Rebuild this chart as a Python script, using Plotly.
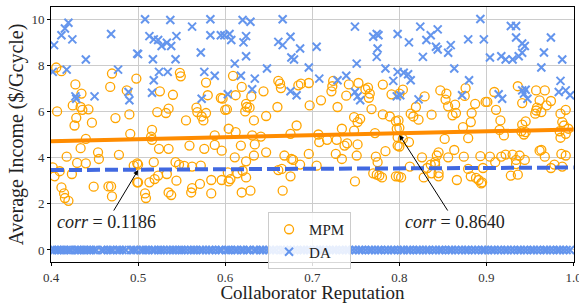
import plotly.graph_objects as go

# ---------------- data ----------------
mpm_x = [
    0.406,0.412,0.428,0.435,0.425,0.434,0.436,0.443,0.407,0.429,0.427,0.447,0.470,0.468,0.487,0.498,0.474,0.490,0.440,0.491,0.434,0.454,0.418,0.455,0.478,0.430,0.440,0.402,0.410,0.404,0.424,0.412,0.415,0.416,0.420,0.449,0.466,0.469,0.470,0.495,0.499,0.499,
    0.548,0.549,0.578,0.525,0.540,0.580,0.595,0.522,0.532,0.535,0.555,0.567,0.568,0.573,0.578,0.575,0.600,0.516,0.515,0.516,0.524,0.535,0.559,0.576,0.588,0.588,0.596,0.500,0.518,0.543,0.547,0.553,0.562,0.572,0.500,0.513,0.519,0.523,0.533,0.544,0.508,0.509,0.535,0.538,0.562,0.561,0.571,0.584,0.584,0.596,
    0.609,0.619,0.644,0.661,0.664,0.663,0.684,0.687,0.696,0.612,0.630,0.624,0.625,0.628,0.623,0.602,0.597,0.660,0.633,0.647,0.682,0.697,0.604,0.612,0.631,0.641,0.675,0.618,0.634,0.647,0.611,0.633,0.668,0.676,0.678,0.696,0.624,0.686,0.603,0.614,0.620,0.606,0.604,0.624,0.661,0.665,0.675,0.619,0.629,0.666,
    0.724,0.723,0.722,0.742,0.753,0.761,0.764,0.766,0.765,0.781,0.791,0.710,0.729,0.739,0.768,0.748,0.755,0.752,0.781,0.789,0.796,0.734,0.748,0.707,0.772,0.708,0.717,0.728,0.737,0.740,0.752,0.798,0.798,0.727,0.734,0.751,0.784,0.773,0.775,0.705,0.770,0.774,0.777,0.780,0.749,0.796,
    0.804,0.800,0.847,0.854,0.876,0.853,0.856,0.864,0.875,0.887,0.899,0.829,0.819,0.813,0.816,0.822,0.837,0.861,0.865,0.883,0.882,0.799,0.797,0.800,0.873,0.804,0.800,0.811,0.852,0.879,0.845,0.843,0.863,0.856,0.874,0.893,0.826,0.841,0.841,0.836,0.812,0.832,0.896,0.799,0.802,0.828,0.845,0.845,0.837,0.879,0.882,0.888,0.891,0.894,0.866,
    0.909,0.901,0.911,0.936,0.941,0.957,0.967,0.961,0.958,0.957,0.956,0.963,0.969,0.974,0.991,0.985,0.916,0.915,0.920,0.941,0.945,0.940,0.943,0.945,0.987,0.989,0.984,0.991,0.985,0.994,0.904,0.917,0.922,0.930,0.938,0.944,0.934,0.934,0.910,0.961,0.963,0.967,0.986,0.991,0.928,0.936,0.978,0.974,0.987,0.895,
]
mpm_y = [
    7.90,7.74,7.17,6.77,6.26,6.19,6.07,6.09,6.00,5.72,5.39,5.51,7.64,7.06,6.91,7.42,5.71,5.87,4.81,5.03,4.41,4.23,4.04,3.94,4.12,3.77,3.75,3.58,3.41,3.19,3.29,2.71,2.45,2.25,2.13,2.74,2.75,2.75,2.32,3.65,3.75,2.93,
    7.67,7.52,7.25,6.87,6.72,6.70,6.58,5.97,5.93,6.12,5.61,6.16,5.97,5.78,5.93,5.61,6.07,5.20,4.91,4.77,4.38,4.38,4.52,4.38,4.55,4.96,4.30,3.70,3.80,3.80,3.70,3.64,3.61,3.65,2.93,2.93,3.07,3.22,3.29,3.00,2.45,2.25,2.49,2.38,2.68,2.49,2.86,3.03,2.45,3.03,
    7.54,7.06,6.87,7.32,7.01,7.20,7.13,7.20,7.23,6.70,6.65,6.33,6.19,6.16,6.00,6.09,6.55,6.19,5.61,5.80,5.39,6.26,5.25,5.10,4.96,4.91,5.03,4.52,4.57,4.23,4.01,4.09,4.09,3.94,3.90,4.16,3.84,3.70,3.36,3.32,3.43,3.07,2.97,3.14,3.46,3.51,3.19,2.49,2.57,2.57,
    7.32,7.09,6.87,7.17,7.23,6.96,7.03,6.77,6.59,7.16,6.74,6.48,6.19,6.68,6.10,5.75,5.68,5.54,5.87,5.78,5.58,5.25,5.17,5.00,5.06,4.67,4.77,4.77,4.52,4.62,4.57,4.88,4.52,4.16,3.94,4.09,4.28,4.04,3.80,3.65,3.32,3.26,3.22,3.14,2.97,3.19,
    6.94,6.77,6.91,6.77,7.01,6.51,6.22,6.29,6.67,6.33,6.41,6.65,6.19,5.90,5.78,5.64,5.86,5.83,5.93,5.93,5.54,5.61,5.25,5.29,5.32,4.81,4.48,4.67,4.81,4.84,4.23,4.09,4.33,4.01,4.04,4.06,4.01,3.80,3.70,3.70,3.61,3.55,3.55,3.19,3.14,3.14,3.19,3.33,3.32,3.51,3.19,3.12,3.03,2.88,3.03,
    6.84,6.41,6.07,7.09,6.36,6.91,6.91,6.48,6.16,6.04,5.90,5.97,6.26,6.45,6.07,5.90,5.61,5.20,4.96,5.43,5.57,5.14,5.00,5.10,5.54,5.39,5.14,5.03,4.86,5.25,4.04,4.04,4.13,4.13,4.09,3.90,3.90,3.72,3.80,4.30,4.33,4.04,4.16,4.09,3.22,3.26,3.70,3.55,3.61,2.93,
]

da_x = [
    0.4035,0.412,0.416,0.420,0.4245,0.469,0.440,0.499,0.402,0.418,0.477,0.428,0.429,0.450,0.489,0.490,
    0.508,0.537,0.562,0.583,0.583,0.595,0.513,0.518,0.523,0.527,0.533,0.538,0.544,0.500,0.517,0.543,0.572,0.524,0.534,0.518,0.576,0.588,0.516,0.573,
    0.620,0.629,0.666,0.599,0.605,0.607,0.624,0.621,0.661,0.666,0.675,0.686,0.624,0.676,0.679,0.611,0.648,0.696,0.618,0.634,0.631,0.603,0.675,0.682,
    0.749,0.770,0.774,0.776,0.798,0.705,0.775,0.774,0.751,0.784,0.798,0.708,0.729,0.739,0.793,0.749,0.752,0.755,0.797,
    0.824,0.844,0.893,0.811,0.831,0.836,0.842,0.844,0.859,0.856,0.879,0.897,0.827,0.863,0.805,0.810,0.813,0.880,0.801,0.822,0.872,
    0.928,0.934,0.934,0.941,0.944,0.974,0.966,0.941,0.937,0.930,0.917,0.922,0.904,0.987,0.963,0.985,0.983,0.991,0.996,0.914,0.918,0.941,0.943,0.947,0.945,
]
da_y = [
    8.87,9.30,9.59,9.84,9.12,9.35,8.25,8.50,7.71,7.81,7.81,6.65,6.55,6.65,6.84,6.48,
    9.99,9.96,9.67,9.99,9.30,9.30,9.26,9.12,9.09,8.83,8.97,8.83,9.26,8.48,8.26,8.26,8.55,7.71,7.71,7.35,7.71,7.54,6.81,6.55,
    9.96,9.88,9.99,9.30,9.35,9.09,9.26,8.99,9.01,8.87,9.23,8.72,8.39,8.33,8.25,8.07,7.86,7.90,7.54,7.42,6.96,6.74,6.87,6.70,
    9.67,9.23,9.35,9.30,9.35,8.80,8.72,8.36,8.07,7.86,7.71,7.42,7.35,7.54,7.32,6.84,6.65,6.48,6.65,
    9.67,9.55,10.00,8.99,9.09,9.30,8.80,8.68,8.87,8.54,9.12,9.12,8.36,7.86,7.67,7.61,7.35,7.35,6.70,6.52,6.70,
    9.70,9.70,9.20,8.94,8.83,9.20,8.55,8.54,8.39,8.25,8.39,8.25,8.33,8.25,7.90,7.32,6.84,6.91,6.70,6.74,6.55,6.91,6.77,6.55,6.94,
]

# DA points that earned nothing (y = 0 band)
da_zero_x = [
    0.401,0.404,0.407,0.409,0.412,0.415,0.418,0.421,0.423,0.427,0.430,0.432,0.435,0.438,0.441,0.444,0.446,0.449,0.452,0.458,
    0.461,0.465,0.468,0.471,0.476,0.479,0.482,0.486,0.492,0.495,0.498,0.503,0.506,0.509,0.512,0.516,0.519,0.523,0.526,0.529,
    0.533,0.537,0.540,0.543,0.547,0.550,0.553,0.557,0.561,0.564,0.567,0.571,0.574,0.578,0.582,0.585,0.589,0.593,0.596,0.601,
    0.604,0.607,0.611,0.614,0.618,0.621,0.625,0.628,0.633,0.636,0.640,0.643,0.647,0.651,0.655,0.659,0.664,0.668,0.671,0.675,
    0.679,0.683,0.687,0.690,0.694,0.698,0.702,0.705,0.709,0.713,0.716,0.720,0.724,0.727,0.731,0.735,0.739,0.742,0.746,0.750,
    0.754,0.757,0.761,0.765,0.768,0.772,0.776,0.779,0.783,0.787,0.791,0.794,0.798,0.802,0.805,0.809,0.812,0.816,0.820,0.823,
    0.827,0.831,0.834,0.838,0.842,0.846,0.849,0.853,0.857,0.860,0.864,0.868,0.872,0.876,0.879,0.883,0.887,0.891,0.895,0.898,
    0.902,0.906,0.909,0.913,0.917,0.921,0.924,0.928,0.932,0.936,0.939,0.943,0.947,0.951,0.954,0.958,0.962,0.966,0.969,0.973,
    0.977,0.981,0.984,0.988,0.992,0.996,
]
da_zero_y = [0.0] * len(da_zero_x)

# fitted trend lines (end points)
fit_x = [0.4, 1.0]
mpm_fit_y = [4.71, 5.22]
da_fit_y = [3.46, 3.57]

corr_labels = ["0.1186", "0.8640"]
corr_heads_x = [0.5, 0.8]
corr_heads_y = [3.46, 4.98]
corr_text_x = [0.4641, 0.8639]
corr_text_y = [1.21, 1.21]

xticks = [0.4, 0.5, 0.6, 0.7, 0.8, 0.9, 1.0]
yticks = [0, 2, 4, 6, 8, 10]

FONT = "'Liberation Serif', 'Times New Roman', Times, serif"

fig = go.Figure()
fig.add_trace(go.Scatter(
    x=mpm_x, y=mpm_y, mode="markers", name="MPM",
    marker=dict(symbol="circle-open", size=9, color="#FFA500", line=dict(width=1.3, color="#FFA500")),
))
fig.add_trace(go.Scatter(
    x=da_x + da_zero_x, y=da_y + da_zero_y, mode="markers", name="DA",
    marker=dict(symbol="x-thin-open", size=8, color="#6495ED", line=dict(width=2, color="#6495ED")),
))
fig.add_trace(go.Scatter(
    x=fit_x, y=mpm_fit_y, mode="lines", showlegend=False,
    line=dict(color="#FF8C00", width=4),
))
fig.add_trace(go.Scatter(
    x=fit_x, y=da_fit_y, mode="lines", showlegend=False,
    line=dict(color="#4169E1", width=4, dash="13px,5px"),
))

for lab, hx, hy, tx, ty in zip(corr_labels, corr_heads_x, corr_heads_y, corr_text_x, corr_text_y):
    fig.add_annotation(
        x=hx, y=hy, ax=tx, ay=ty, xref="x", yref="y", axref="x", ayref="y",
        text="<i>corr</i> = " + lab, showarrow=True,
        arrowhead=2, arrowsize=1, arrowwidth=1, arrowcolor="black",
        font=dict(family=FONT, size=18, color="#222"),
    )

axis_common = dict(
    showline=True, linecolor="black", linewidth=1, mirror=True,
    showgrid=True, gridcolor="#cccccc", gridwidth=1,
    ticks="outside", ticklen=3, tickcolor="black",
    zeroline=False, automargin=False, ticklabeloverflow="allow",
    tickfont=dict(family=FONT, size=13, color="#333"),
)

fig.update_layout(
    width=579, height=303,
    margin=dict(l=51, r=5, t=7, b=41),
    paper_bgcolor="white", plot_bgcolor="white",
    font=dict(family=FONT, color="#222"),
    xaxis=dict(range=[0.4, 1.0005], tickvals=xticks, ticktext=[f"{v:.1f}" for v in xticks],
               title=dict(text="Collaborator Reputation", font=dict(family=FONT, size=19), standoff=0),
               **axis_common),
    yaxis=dict(range=[-0.52, 10.52], tickvals=yticks,
               title=dict(text="Average Income ($/Gcycle)", font=dict(family=FONT, size=20), standoff=2),
               **axis_common),
    legend=dict(x=0.415, y=0.196, xanchor="left", yanchor="top",
                bgcolor="rgba(255,255,255,0.85)", bordercolor="#cccccc", borderwidth=1,
                font=dict(family=FONT, size=15), tracegroupgap=0),
)

# remove the browser's default 8px page margin so the figure sits at the window origin
fig.write_html("out.html", config={"displayModeBar": False},
               post_script="document.body.style.margin='0';")
